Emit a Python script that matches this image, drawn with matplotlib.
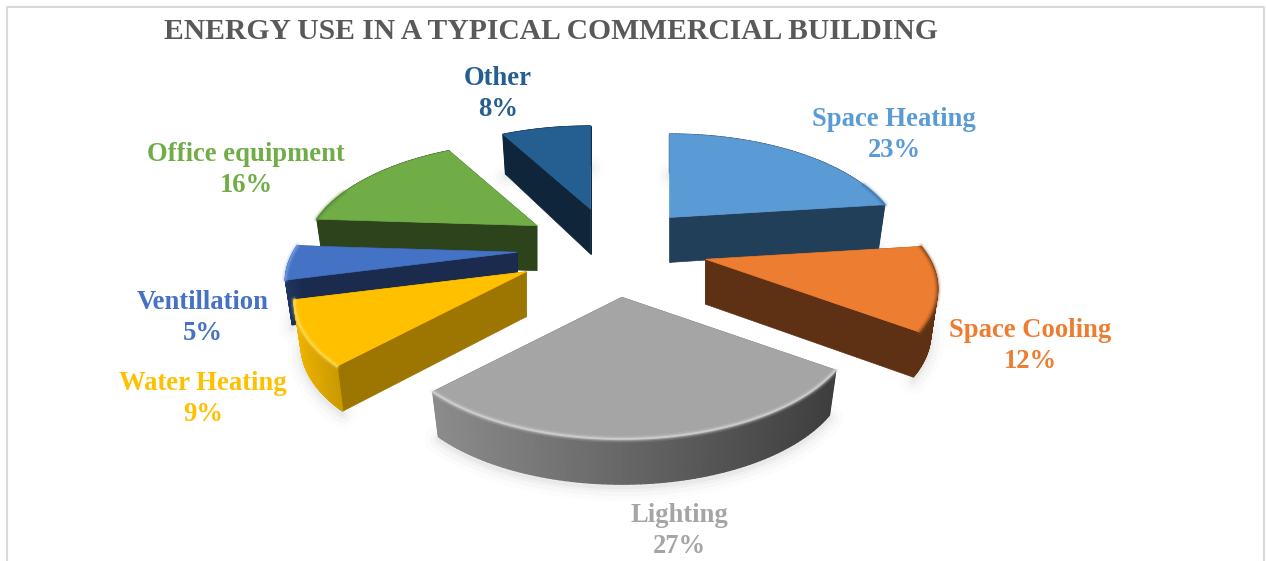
import numpy as np
import matplotlib
matplotlib.use('Agg')
import matplotlib.pyplot as plt
from matplotlib.colors import to_rgb
from matplotlib.patches import Polygon

categorie = ['Space Heating', 'Space Cooling', 'Lighting', 'Water Heating', 'Ventillation', 'Office equipment', 'Other']
valori = [23, 12, 27, 9, 5, 16, 8]

colori = ['#5B9BD5', '#ED7D31', '#A5A5A5', '#FFC000', '#4472C4', '#70AD47', '#255E91']
colori_taglio = ['#223F59', '#5F3114', '#6A6A6A', '#9C7600', '#1A2B4D', '#2C431B', '#0E253A']
parete_sx = ['#223F59', '#5F3114', '#8C8C8C', '#EDB200', '#1F3560', '#2C431B', '#0E253A']
parete_dx = ['#223F59', '#5F3114', '#3E3E3E', '#C99A00', '#1A2B4D', '#2C431B', '#0E253A']
bisello = ['#3F78AE', '#8A4A1C', '#E2E2E2', '#FFE066', '#7FA4E6', '#5A8C38', '#1F4F7C']

# posizione del centro delle etichette, in pixel
pos_etichette = [(894, 135), (1030, 346), (679, 531), (203, 399), (203, 318), (246, 170), (498, 94)]
ordine = [6, 0, 5, 1, 4, 3, 2]

CX, CY = 612, 248
F, G, K = 224, 105, 0.26
ESPLOSO = 0.42
SPESSORE = 45


def proietta(x, y):
    d = 1 + K * y
    return F * x / d, -G * y / d


def mescola(c1, c2, t):
    c1, c2 = np.array(to_rgb(c1)), np.array(to_rgb(c2))
    return tuple(c1 + (c2 - c1) * t)


def disegnaOmbra(ax, xb, yb):
    for larg, alfa in [(20, 0.012), (13, 0.018), (7, 0.025), (3, 0.03)]:
        ax.plot(xb, yb + 3, color='black', lw=larg, alpha=alfa, solid_capstyle='round', zorder=1)


def disegnaFetta(ax, i, inizio, fine, z):
    medio = (inizio + fine) / 2
    dx, dy = proietta(ESPLOSO * np.sin(medio), ESPLOSO * np.cos(medio))
    ax0, ay0 = CX + dx, CY + dy

    t = np.linspace(inizio, fine, 80)
    gx, gy = np.sin(t), np.cos(t)
    px, py = proietta(gx, gy)
    sx, sy = ax0 + px, ay0 + py

    # la parete si stringe un poco verso il basso
    bx = ax0 + px * 0.97
    by = sy + SPESSORE * (1 - 0.13 * np.clip(gy, 0, 1))
    bx0, by0 = ax0, ay0 + SPESSORE

    disegnaOmbra(ax, bx, by)

    # facce di taglio
    for k in (0, -1):
        ax.add_patch(Polygon([(ax0, ay0), (sx[k], sy[k]), (bx[k], by[k]), (bx0, by0)],
                             closed=True, fc=colori_taglio[i], ec=colori_taglio[i], lw=0.5, zorder=z))

    # parete esterna con sfumatura
    larghezza = sx.max() - sx.min()
    for j in range(len(t) - 1):
        f = (sx[j] - sx.min()) / larghezza
        c = mescola(parete_sx[i], parete_dx[i], f)
        ax.add_patch(Polygon([(sx[j], sy[j]), (sx[j + 1], sy[j + 1]), (bx[j + 1], by[j + 1]), (bx[j], by[j])],
                             closed=True, fc=c, ec=c, lw=1.0, zorder=z + 0.1))

    # faccia superiore
    bordo = np.column_stack([np.r_[ax0, sx], np.r_[ay0, sy]])
    ax.add_patch(Polygon(bordo, closed=True, fc=colori[i], ec=colori[i], lw=0.5, zorder=z + 0.2))

    # bisello solo dove il bordo guarda verso di noi
    davanti = gy < 0.35
    if davanti.sum() > 1:
        for larg, alfa in [(5, 0.12), (3, 0.25), (1.5, 0.5)]:
            ax.plot(sx[davanti], sy[davanti], color=bisello[i], lw=larg, alpha=alfa,
                    solid_capstyle='round', zorder=z + 0.3)


def main():
    fig = plt.figure(figsize=(12.66, 5.61), dpi=100)
    ax = fig.add_axes([0, 0, 1, 1])
    ax.set_xlim(0, 1266)
    ax.set_ylim(561, 0)
    ax.axis('off')

    ax.plot([7, 7, 1264, 1264], [561, 7, 7, 561], color='#D9D9D9', lw=1.5, zorder=0)

    cum = np.cumsum([0] + valori) / sum(valori) * 2 * np.pi
    for n, i in enumerate(ordine):
        disegnaFetta(ax, i, cum[i], cum[i + 1], 2 + n)

    ax.text(551, 31, 'ENERGY USE IN A TYPICAL COMMERCIAL BUILDING', ha='center', va='center',
            family='Liberation Serif', weight='bold', fontsize=21.3, color='#595959', zorder=20)

    for i, nome in enumerate(categorie):
        x, y = pos_etichette[i]
        ax.text(x, y, f'{nome}\n{valori[i]}%', ha='center', va='center', multialignment='center',
                family='Liberation Serif', weight='bold', fontsize=19.2, color=colori[i],
                linespacing=1.32, zorder=20)

    fig.savefig('out.png', dpi=100)


if __name__ == '__main__':
    main()
